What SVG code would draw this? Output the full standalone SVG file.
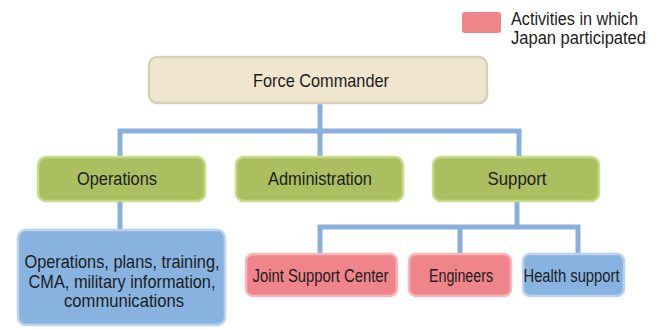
<svg xmlns="http://www.w3.org/2000/svg" width="661" height="329" viewBox="0 0 661 329">
<style>
text{font-family:"Liberation Sans",Arial,sans-serif;fill:#1c1c1c;}
.t{font-size:19px;text-anchor:middle;}
.s{font-size:18px;text-anchor:middle;}
.tan{fill:#f0e6d0;stroke:#d8cfb7;stroke-width:2.5;}
.grn{fill:#abbe60;stroke:#c6dc88;stroke-width:2.5;}
.blu{fill:#88b3e0;stroke:#bad2ef;stroke-width:2.5;}
.pnk{fill:#ef848b;stroke:#f6b8bc;stroke-width:2.5;}
.con{fill:none;stroke:#8aafdd;stroke-width:5;}
</style>
<rect width="661" height="329" fill="#ffffff"/>
<g id="connectors">
<path class="con" d="M320,104 V131 M120,156 V131 H519 V156 M320,131 V156"/>
<path class="con" d="M120,202 V229"/>
<path class="con" d="M517,202 V227 M320,253 V227 H578 V253 M460,227 V253"/>
</g>
<g id="legend">
<rect x="462" y="12" width="39" height="21" rx="3" fill="#ef848b"/>
<text x="511" y="25" font-size="17.5" textLength="127" lengthAdjust="spacingAndGlyphs">Activities in which</text>
<text x="511" y="44" font-size="17.5" textLength="135" lengthAdjust="spacingAndGlyphs">Japan participated</text>
</g>
<g id="force-commander">
<rect class="tan" x="149" y="57" width="338" height="46" rx="8"/>
<text class="t" x="321" y="87" textLength="136" lengthAdjust="spacingAndGlyphs">Force Commander</text>
</g>
<g id="operations">
<rect class="grn" x="38" y="157" width="167" height="44" rx="8"/>
<text class="t" x="117" y="185" textLength="80" lengthAdjust="spacingAndGlyphs">Operations</text>
</g>
<g id="administration">
<rect class="grn" x="236" y="157" width="167" height="44" rx="8"/>
<text class="t" x="320" y="185" textLength="104" lengthAdjust="spacingAndGlyphs">Administration</text>
</g>
<g id="support">
<rect class="grn" x="433" y="157" width="166" height="44" rx="8"/>
<text class="t" x="517" y="185" textLength="59" lengthAdjust="spacingAndGlyphs">Support</text>
</g>
<g id="operations-detail">
<rect class="blu" x="18" y="230" width="207" height="95" rx="8"/>
<text class="t" x="122" y="268" textLength="195" lengthAdjust="spacingAndGlyphs">Operations, plans, training,</text>
<text class="t" x="122" y="288" textLength="187" lengthAdjust="spacingAndGlyphs">CMA, military information,</text>
<text class="t" x="124" y="307" textLength="120" lengthAdjust="spacingAndGlyphs">communications</text>
</g>
<g id="joint-support-center">
<rect class="pnk" x="246" y="254" width="151" height="42" rx="7"/>
<text class="s" x="320.5" y="281.5" textLength="136" lengthAdjust="spacingAndGlyphs">Joint Support Center</text>
</g>
<g id="engineers">
<rect class="pnk" x="409" y="254" width="102" height="42" rx="7"/>
<text class="s" x="461" y="281.5" textLength="64" lengthAdjust="spacingAndGlyphs">Engineers</text>
</g>
<g id="health-support">
<rect class="blu" x="523" y="254" width="101" height="42" rx="7"/>
<text class="s" x="571.5" y="281.5" textLength="96" lengthAdjust="spacingAndGlyphs">Health support</text>
</g>
</svg>
